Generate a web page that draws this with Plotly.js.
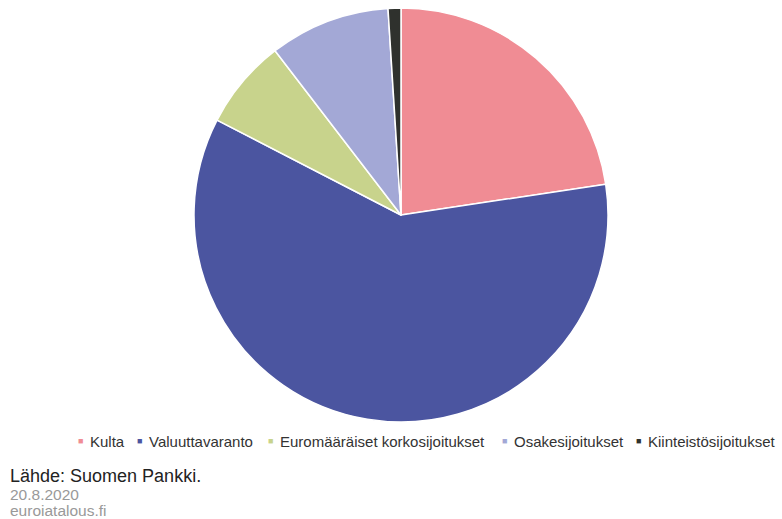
<!DOCTYPE html>
<html><head><meta charset="utf-8">
<script src="https://cdn.plot.ly/plotly-3.0.1.min.js"></script>
<style>html,body{margin:0;padding:0;background:#fff}#c{width:782px;height:519px}</style>
</head><body><div id="c"></div>
<script>
var labels = ["Kulta","Valuuttavaranto","Euromääräiset korkosijoitukset","Osakesijoitukset","Kiinteistösijoitukset"];
var values = [22.6, 59.9, 7.0, 9.4, 1.0];
var colors = ["#F08C94","#4B55A0","#C8D38C","#A3A8D6","#2F312D"];
var legendTextX = [88, 147, 278, 512, 646];
var W = 782, H = 519;
var FONT = 'Liberation Sans, Arial, sans-serif';
function px(x){return x/W;} function py(y){return 1-y/H;}
var ann = [];
labels.forEach(function(l,i){
  ann.push({xref:'paper',yref:'paper',x:px(legendTextX[i]-3),y:py(441),xanchor:'right',yanchor:'middle',showarrow:false,
    text:'■',font:{family:FONT,size:9,color:colors[i]}});
  ann.push({xref:'paper',yref:'paper',x:px(legendTextX[i]),y:py(441),xanchor:'left',yanchor:'middle',showarrow:false,
    text:l,font:{family:FONT,size:15,color:'#333'}});
});
ann.push({xref:'paper',yref:'paper',x:px(8),y:py(476),xanchor:'left',yanchor:'middle',showarrow:false,text:'Lähde: Suomen Pankki.',font:{family:FONT,size:18,color:'#222'}});
ann.push({xref:'paper',yref:'paper',x:px(8),y:py(494),xanchor:'left',yanchor:'middle',showarrow:false,text:'20.8.2020',font:{family:FONT,size:15.5,color:'#999'}});
ann.push({xref:'paper',yref:'paper',x:px(8),y:py(510),xanchor:'left',yanchor:'middle',showarrow:false,text:'euroiatalous.fi',font:{family:FONT,size:15.5,color:'#999'}});
Plotly.newPlot('c',[{
  type:'pie', labels:labels, values:values, sort:false, direction:'clockwise', rotation:0,
  marker:{colors:colors,line:{color:'#fff',width:1.5}}, textinfo:'none', hoverinfo:'label+percent',
  domain:{x:[(401-207)/W,(401+207)/W], y:[py(422),py(8)]}
}],{
  width:W,height:H,margin:{l:0,r:0,t:0,b:0},showlegend:false,paper_bgcolor:'#fff',annotations:ann
},{displayModeBar:false,staticPlot:true});
</script></body></html>
